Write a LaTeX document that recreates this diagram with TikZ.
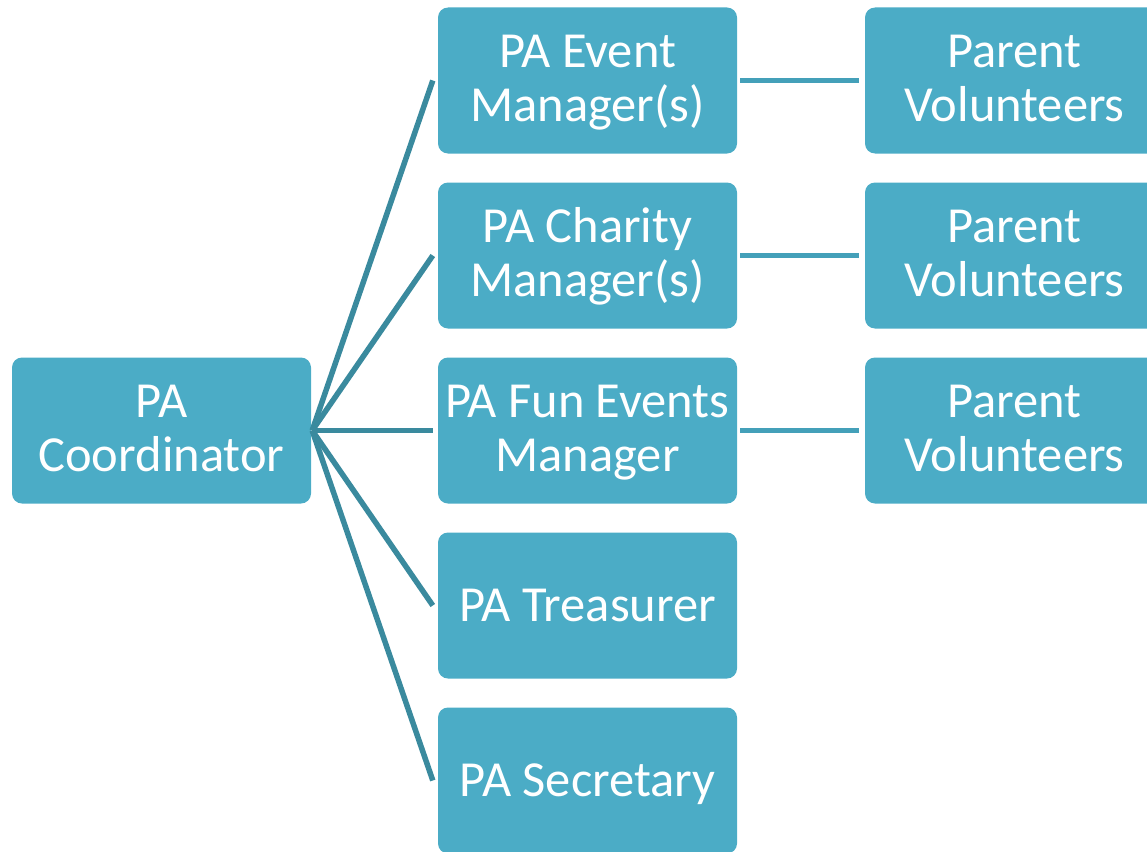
\documentclass[tikz,border=0pt]{standalone}
\usepackage{fontspec}
\setmainfont{Carlito}
\definecolor{boxfill}{HTML}{4BACC6}
\definecolor{hubline}{HTML}{3A8A9E}
\definecolor{sideline}{HTML}{44A0B9}
\begin{document}
\begin{tikzpicture}[x=1pt,y=-1pt,
  orgbox/.style={fill=boxfill, rounded corners=10pt, minimum width=299pt, minimum height=146pt, inner sep=0pt, text=white, align=center, font=\fontsize{50.5}{54}\selectfont},
  twoline/.style={text height=85pt, text depth=4pt},
  oneline/.style={text height=31pt, text depth=0pt},
  hubedge/.style={draw=hubline, line width=5.5pt},
  sideedge/.style={draw=sideline, line width=5pt, shorten <=3pt, shorten >=6pt}]
\useasboundingbox (0,0) rectangle (1147,851);
\node[orgbox,twoline] (coord) at (161.5,430.5) {PA\\Coordinator};
\node[orgbox,twoline] (ev) at (587.5,80.5) {PA Event\\Manager(s)};
\node[orgbox,twoline] (ch) at (587.5,255.5) {PA Charity\\Manager(s)};
\node[orgbox,twoline] (fun) at (587.5,430.5) {PA Fun Events\\Manager};
\node[orgbox,oneline] (tr) at (587.5,605.5) {PA Treasurer};
\node[orgbox,oneline] (sec) at (587.5,780.5) {PA Secretary};
\node[orgbox,twoline] (pv1) at (1014.5,80.5) {Parent\\Volunteers};
\node[orgbox,twoline] (pv2) at (1014.5,255.5) {Parent\\Volunteers};
\node[orgbox,twoline] (pv3) at (1014.5,430.5) {Parent\\Volunteers};
\coordinate (hub) at ([xshift=1pt]coord.east);
\foreach \t in {ev,ch,fun,tr,sec} \draw[hubedge] (hub) -- ([xshift=-5pt]\t.west);
\draw[sideedge] (ev.east) -- (pv1.west);
\draw[sideedge] (ch.east) -- (pv2.west);
\draw[sideedge] (fun.east) -- (pv3.west);
\end{tikzpicture}
\end{document}
